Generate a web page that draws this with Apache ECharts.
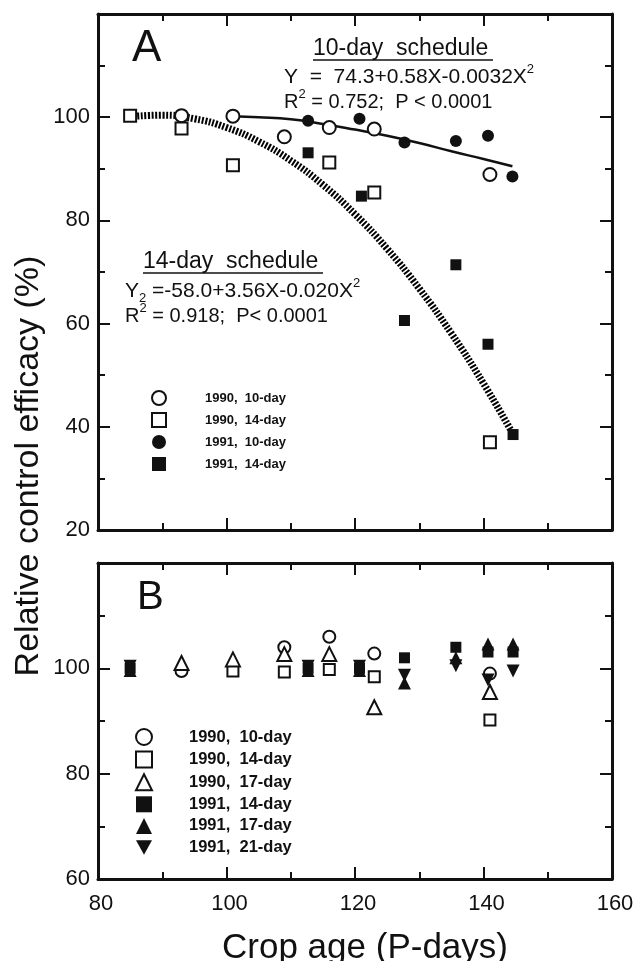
<!DOCTYPE html>
<html><head><meta charset="utf-8">
<script src="https://cdn.jsdelivr.net/npm/echarts@6/dist/echarts.min.js"></script>
<style>html,body{margin:0;padding:0;background:#fff}#c{width:644px;height:961px}</style>
</head><body><div id="c"></div>
<script>
// ---------- Panel A data (crop age P-days, relative efficacy %) ----------
const a90_10 = [[93,100.3],[101,100.2],[109,96.2],[116,98.0],[123,97.7],[141,88.9]];
const a90_14 = [[85,100.3],[93,97.8],[101,90.7],[116,91.2],[123,85.4],[141,37.0]];
const a91_10 = [[112.7,99.3],[120.7,99.7],[127.7,95.1],[135.7,95.4],[140.7,96.4],[144.5,88.5]];
const a91_14 = [[112.7,93.1],[121,84.7],[127.7,60.6],[135.7,71.4],[140.7,56.0],[144.6,38.5]];
// fitted curves
const fit10X = [101,105,110,115,120,125,130,135,140,144.5];
const fit10Y = [100.2,100.0,99.6,98.7,97.6,96.4,95.0,93.4,91.9,90.5];
const fit14X = [85,90,95,100,105,110,115,120,125,130,135,140,144.5];
const fit14Y = [100.1,100.4,99.7,98.0,95.3,91.6,86.9,81.2,74.5,66.8,58.1,48.4,38.8];
// ---------- Panel B data ----------
const b90_10 = [[93,99.5],[109,104.0],[116,106.0],[123,102.8],[141,99.0]];
const b90_14 = [[101,99.5],[109,99.3],[116,99.8],[123,98.4],[141,90.2]];
const b90_17 = [[93,101.0],[101,101.7],[109,102.7],[116,102.7],[123,92.6],[141,95.5]];
const b91_14 = [[85,100],[112.7,100],[120.7,100],[127.7,102.0],[135.7,104.0],[140.7,103.1],[144.6,103.1]];
const b91_17 = [[85,99.6],[112.7,99.6],[120.7,99.6],[127.7,97.2],[135.7,102.0],[140.7,104.6],[144.6,104.6]];
const b91_21 = [[85,100.4],[112.7,100.4],[120.7,100.4],[127.7,98.7],[135.7,100.5],[140.7,97.8],[144.6,99.5]];
// ---------- labels ----------
const namesA = ['1990,  10-day','1990,  14-day','1991,  10-day','1991,  14-day'];
const namesB = ['1990,  10-day','1990,  14-day','1990,  17-day','1991,  14-day','1991,  17-day','1991,  21-day'];
const xTitle = 'Crop age (P-days)';
const yTitle = 'Relative control efficacy (%)';

const FF = 'Liberation Sans, Arial, Helvetica, sans-serif';
const K = '#111';
const chart = echarts.init(document.getElementById('c'), null, {renderer:'canvas'});

function xAx(grid, pos, labels){
  return {type:'value', gridIndex:grid, position:pos, min:80, max:160, interval:20,
    axisLine:{onZero:false, lineStyle:{color:K, width:3}},
    axisTick:{inside:true, length:12, lineStyle:{color:K, width:2}},
    minorTick:{show:true, splitNumber:2, length:7, lineStyle:{color:K, width:2}},
    splitLine:{show:false}, minorSplitLine:{show:false},
    axisLabel:{show:labels, color:K, fontSize:22, fontFamily:FF, margin:14, padding:[0,0,0,6]}};
}
function yAx(grid, pos, min, labels){
  return {type:'value', gridIndex:grid, position:pos, min:min, max:120, interval:20,
    axisLine:{onZero:false, lineStyle:{color:K, width:3}},
    axisTick:{inside:true, length:12, lineStyle:{color:K, width:2}},
    minorTick:{show:true, splitNumber:2, length:7, lineStyle:{color:K, width:2}},
    splitLine:{show:false}, minorSplitLine:{show:false},
    axisLabel:{show:labels, color:K, fontSize:22, fontFamily:FF, margin:8,
      formatter:v => (v < 120 ? String(v) : '')}};
}
function sc(name, data, xi, yi, symbol, size, filled, rot){
  return {type:'scatter', name, data, xAxisIndex:xi, yAxisIndex:yi, symbol, symbolSize:size,
    symbolRotate: rot || 0, z:5,
    itemStyle: filled ? {color:K, borderColor:K, borderWidth:0, opacity:1}
                      : {color:'#fff', borderColor:K, borderWidth:2, opacity:1}};
}
const pairs = (xs, ys) => xs.map((x,i)=>[x, ys[i]]);
const legendB = namesB.map((n,i) => i === 5 ? {name:n, icon:'path://M0,0L20,0L10,18Z'} : {name:n});

const option = {
  animation:false,
  backgroundColor:'#fff',
  grid:[{left:98, top:14, width:514, height:516}, {left:98, top:563, width:514, height:316}],
  xAxis:[xAx(0,'bottom',false), xAx(0,'top',false), xAx(1,'bottom',true), xAx(1,'top',false)],
  yAxis:[yAx(0,'left',20,true), yAx(0,'right',20,false), yAx(1,'left',60,true), yAx(1,'right',60,false)],
  legend:[
    {data:namesA, orient:'vertical', left:146, top:385, itemWidth:14, itemHeight:14, itemGap:6,
     selectedMode:false, textStyle:{fontSize:13, fontWeight:'bold', lineHeight:16, fontFamily:FF, color:K, padding:[0,0,0,34]}},
    {data:legendB, orient:'vertical', left:130, top:723, itemWidth:16, itemHeight:16, itemGap:4.6,
     selectedMode:false, textStyle:{fontSize:16.5, fontWeight:'bold', lineHeight:16, fontFamily:FF, color:K, padding:[0,0,0,32]}}
  ],
  series:[
    {type:'line', name:'fit14', data:pairs(fit14X, fit14Y), xAxisIndex:0, yAxisIndex:0, smooth:true,
     showSymbol:false, silent:true, z:2, lineStyle:{color:'#000', width:7, type:[2,1.6]}},
    {type:'line', name:'fit10', data:pairs(fit10X, fit10Y), xAxisIndex:0, yAxisIndex:0, smooth:true,
     showSymbol:false, silent:true, z:3, lineStyle:{color:K, width:2.5}},
    sc(namesA[0], a90_10, 0, 0, 'circle', 13, false),
    sc(namesA[1], a90_14, 0, 0, 'rect', 12, false),
    sc(namesA[2], a91_10, 0, 0, 'circle', 12, true),
    sc(namesA[3], a91_14, 0, 0, 'rect', 11, true),
    sc(namesB[0], b90_10, 2, 2, 'circle', 12, false),
    sc(namesB[1], b90_14, 2, 2, 'rect', 11, false),
    sc(namesB[2], b90_17, 2, 2, 'triangle', 14, false),
    sc(namesB[3], b91_14, 2, 2, 'rect', 11, true),
    sc(namesB[4], b91_17, 2, 2, 'triangle', 13, true),
    sc(namesB[5], b91_21, 2, 2, 'triangle', 13, true, 180)
  ],
  graphic:[]
};

function mkRich(s){
  return {
    n:{fontSize:s, fontFamily:FF, fill:K, lineHeight:28, verticalAlign:'middle'},
    sup:{fontSize:13, fontFamily:FF, fill:K, lineHeight:14, verticalAlign:'top'},
    sub:{fontSize:13, fontFamily:FF, fill:K, lineHeight:14, verticalAlign:'bottom'}
  };
}
function txt(x, y, text, size){
  return {type:'text', x, y, silent:true, z:10,
    style:{text, fontSize:size, fontFamily:FF, fill:K, align:'left', verticalAlign:'middle'}};
}
function rtxt(x, y, text, s){
  return {type:'text', x, y, silent:true, z:10,
    style:{text, rich:mkRich(s), fontSize:s, fontFamily:FF, fill:K, align:'left', verticalAlign:'middle'}};
}
function uline(x1, x2, y){
  return {type:'line', silent:true, z:10, shape:{x1, y1:y, x2, y2:y}, style:{stroke:K, lineWidth:1.5}};
}
option.graphic = [
  txt(132, 49, 'A', 44),
  txt(137, 598, 'B', 40),
  txt(313, 49, '10-day  schedule', 23), uline(313, 493, 60),
  rtxt(284, 77, '{n|Y  =  74.3+0.58X-0.0032X}{sup|2}', 21),
  rtxt(284, 102, '{n|R}{sup|2}{n| = 0.752;  P < 0.0001}', 20),
  txt(143, 262, '14-day  schedule', 23), uline(143, 323, 273),
  rtxt(125, 291, '{n|Y}{sub|2}{n| =-58.0+3.56X-0.020X}{sup|2}', 21),
  rtxt(125, 316, '{n|R}{sup|2}{n| = 0.918;  P< 0.0001}', 20),
  {type:'text', x:29, y:466, rotation:Math.PI/2, silent:true,
   style:{text:yTitle, fontSize:34, fontFamily:FF, fill:K, align:'center', verticalAlign:'middle'}},
  {type:'text', x:365, y:948, silent:true,
   style:{text:xTitle, fontSize:35, fontFamily:FF, fill:K, align:'center', verticalAlign:'middle'}}
];
chart.setOption(option);
</script></body></html>
